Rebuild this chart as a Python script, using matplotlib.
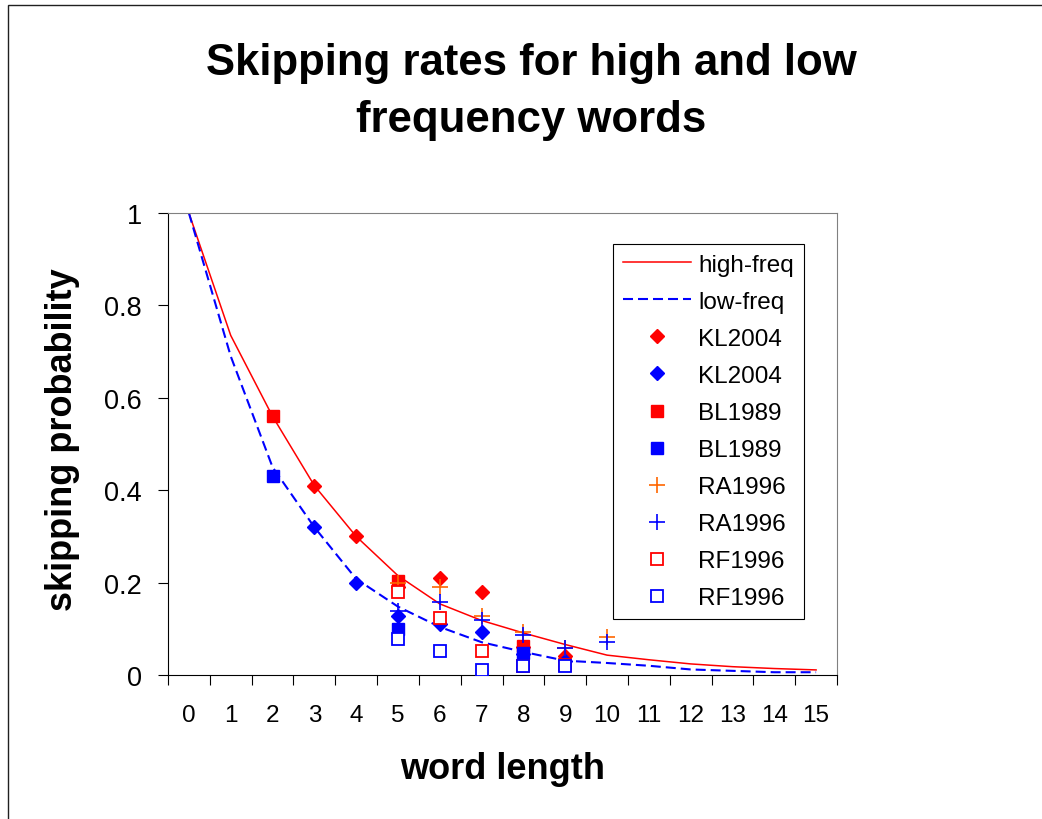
import matplotlib
matplotlib.use("Agg")
import matplotlib.pyplot as plt
from matplotlib.patches import Rectangle

# ---- data ----
word_length = list(range(16))
tick_labels = [str(v) for v in word_length]
high_freq = [1.0, 0.735, 0.56, 0.41, 0.30, 0.215, 0.154, 0.118, 0.091, 0.066,
             0.043, 0.033, 0.024, 0.018, 0.014, 0.011]
low_freq = [1.0, 0.69, 0.45, 0.32, 0.208, 0.148, 0.104, 0.071, 0.05, 0.031,
            0.026, 0.02, 0.012, 0.009, 0.006, 0.006]

kl_x = [3, 4, 5, 6, 7, 8, 9]
kl_high = [0.41, 0.30, 0.19, 0.21, 0.18, 0.06, 0.042]
kl_low = [0.32, 0.20, 0.128, 0.11, 0.093, 0.045, 0.031]

bl_x = [2, 5, 8]
bl_high = [0.56, 0.204, 0.063]
bl_low = [0.43, 0.10, 0.048]

ra_x = [5, 6, 7, 8, 9, 10]
ra_high = [0.20, 0.19, 0.128, 0.092, 0.058, 0.082]
ra_low = [0.138, 0.158, 0.12, 0.086, 0.058, 0.072]

rf_x = [5, 6, 7, 8, 9]
rf_high = [0.18, 0.123, 0.052, 0.02, 0.022]
rf_low = [0.078, 0.052, 0.011, 0.02, 0.02]

y_ticks = [0, 0.2, 0.4, 0.6, 0.8, 1.0]
y_tick_labels = ["0", "0.2", "0.4", "0.6", "0.8", "1"]

RED = "#FF0000"
BLUE = "#0000FF"
ORANGE = "#FF6600"

plt.rcParams['font.family'] = ['Liberation Sans', 'DejaVu Sans']

fig = plt.figure(figsize=(10.42, 8.2), dpi=100)
ax = fig.add_axes([168/1042, 1-676/820, (837-168)/1042, (676-214)/820])

# outer chart border
fig.patches.append(Rectangle((7.5/1042, -0.1), 1.2, 1.1 - 5.5/820, transform=fig.transFigure,
                             fill=False, edgecolor="#202020", linewidth=1.0, clip_on=False))

ax.plot(word_length, high_freq, color=RED, lw=1.1, label="high-freq", zorder=2)
ax.plot(word_length, low_freq, color=BLUE, lw=1.5, dashes=(4.8, 2.4), label="low-freq", zorder=2)

ax.plot(kl_x, kl_high, ls="none", marker="D", ms=7.6, color=RED, mec=RED, label="KL2004", zorder=3)
ax.plot(kl_x, kl_low, ls="none", marker="D", ms=7.6, color=BLUE, mec=BLUE, label="KL2004", zorder=3)
ax.plot(bl_x, bl_high, ls="none", marker="s", ms=9.2, color=RED, mec=RED, label="BL1989", zorder=3)
ax.plot(bl_x, bl_low, ls="none", marker="s", ms=9.2, color=BLUE, mec=BLUE, label="BL1989", zorder=3)
ax.plot(ra_x, ra_high, ls="none", marker="+", ms=11.5, mew=1.2, color=ORANGE, label="RA1996", zorder=3)
ax.plot(ra_x, ra_low, ls="none", marker="+", ms=11.5, mew=1.2, color=BLUE, label="RA1996", zorder=3)
ax.plot(rf_x, rf_high, ls="none", marker="s", ms=8.2, mfc="white", mec=RED, mew=1.3, label="RF1996", zorder=3)
ax.plot(rf_x, rf_low, ls="none", marker="s", ms=8.2, mfc="white", mec=BLUE, mew=1.3, label="RF1996", zorder=3)

ax.set_xlim(-0.5, 15.5)
ax.set_ylim(0, 1)

# category axis: tick marks between categories, labels at centres
ax.set_xticks([v - 0.5 for v in word_length] + [word_length[-1] + 0.5])
ax.set_xticklabels([])
ax.set_xticks(word_length, minor=True)
ax.set_xticklabels(tick_labels, minor=True, fontsize=17.5)
ax.tick_params(axis="x", which="major", direction="out", length=7, width=0.8, color="black")
ax.tick_params(axis="x", which="minor", length=0, pad=21)

ax.set_yticks(y_ticks)
ax.set_yticklabels(y_tick_labels, fontsize=19.5)
ax.tick_params(axis="y", direction="out", length=7.2, width=0.8, pad=11.5)

for s in ["left", "bottom"]:
    ax.spines[s].set_color("black")
    ax.spines[s].set_linewidth(0.8)
for s in ["top", "right"]:
    ax.spines[s].set_color("#808080")
    ax.spines[s].set_linewidth(0.8)

fig.text(531/1042, 1 - 92/820, "Skipping rates for high and low\nfrequency words",
         ha="center", va="center", fontsize=31.5, fontweight="bold", linespacing=1.5)
fig.text(503/1042, 1 - 770/820, "word length", ha="center", va="center",
         fontsize=26, fontweight="bold")
fig.text(63/1042, 1 - 440/820, "skipping probability", ha="center", va="center",
         fontsize=26, fontweight="bold", rotation=90)

leg = ax.legend(loc="upper left", bbox_to_anchor=(613/1042, 1 - 245/820),
                bbox_transform=fig.transFigure, borderaxespad=0, fontsize=17.5,
                frameon=True, fancybox=False, shadow=False, numpoints=1,
                handlelength=2.8, handletextpad=0.3, labelspacing=0.62, borderpad=0.4)
leg.get_frame().set_edgecolor("black")
leg.get_frame().set_linewidth(0.8)
leg.get_frame().set_alpha(None)
leg.get_frame().set_facecolor("white")

fig.savefig("out.png", dpi=100)
